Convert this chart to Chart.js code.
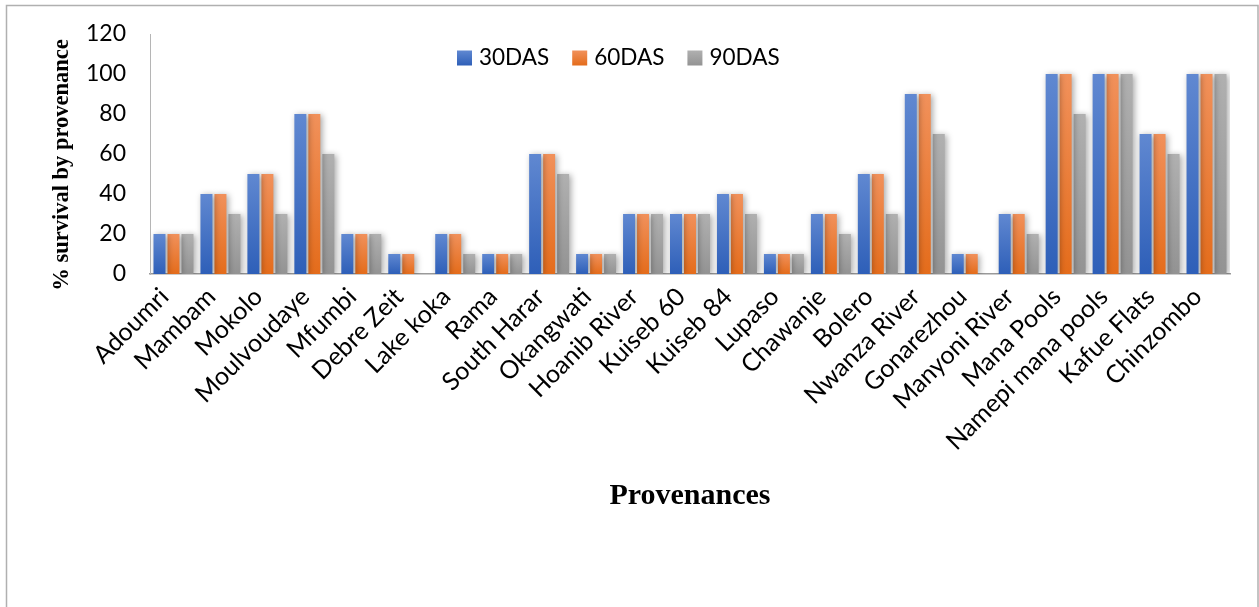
<!DOCTYPE html>
<html>
<head>
<meta charset="utf-8">
<title>% survival by provenance</title>
<script src="https://cdn.jsdelivr.net/npm/chart.js@4/dist/chart.umd.min.js"></script>
<style>
  html, body { margin: 0; padding: 0; background: #ffffff; }
  #wrap { position: relative; width: 1259px; height: 607px; }
</style>
</head>
<body>
<div id="wrap"><canvas id="chart" width="1259" height="607"></canvas></div>
<script>
// Provenances (x categories)
const provenances = [
  'Adoumri', 'Mambam', 'Mokolo', 'Moulvoudaye', 'Mfumbi', 'Debre Zeit',
  'Lake koka', 'Rama', 'South Harar', 'Okangwati', 'Hoanib River',
  'Kuiseb 60', 'Kuiseb 84', 'Lupaso', 'Chawanje', 'Bolero', 'Nwanza River',
  'Gonarezhou', 'Manyoni River', 'Mana Pools', 'Namepi mana pools',
  'Kafue Flats', 'Chinzombo'
];

// % survival at 30, 60 and 90 days after sowing
const das30 = [20, 40, 50, 80, 20, 10, 20, 10, 60, 10, 30, 30, 40, 10, 30, 50, 90, 10, 30, 100, 100, 70, 100];
const das60 = [20, 40, 50, 80, 20, 10, 20, 10, 60, 10, 30, 30, 40, 10, 30, 50, 90, 10, 30, 100, 100, 70, 100];
const das90 = [20, 30, 30, 60, 20, 0, 10, 10, 50, 10, 30, 30, 30, 10, 20, 30, 70, 0, 20, 80, 100, 60, 100];

// Series names
const seriesNames = ['30DAS', '60DAS', '90DAS'];

// Y axis range
const yMin = 0, yMax = 120, yStep = 20;

// Light (top) and dark (bottom) shade of each series
const shades = [
  ['#6088d1', '#2e5fb8'],
  ['#f1915b', '#e46c1b'],
  ['#b0b0b0', '#939393']
];

const tickFamily = 'Lato, "Open Sans", sans-serif';
const serifFamily = '"Liberation Serif", "Times New Roman", serif';

// Vertical gradient for each bar, from its top down to the baseline
function barFill(top, bottom) {
  return (ctx) => {
    const chart = ctx.chart;
    if (ctx.type !== 'data' || !chart.chartArea) return bottom;
    const y = chart.scales.y;
    const y1 = y.getPixelForValue(ctx.raw);
    const y0 = y.getPixelForValue(0);
    if (!(y0 > y1)) return bottom;
    const g = chart.ctx.createLinearGradient(0, y1, 0, y0);
    g.addColorStop(0, top);
    g.addColorStop(1, bottom);
    return g;
  };
}

// Soft drop shadow behind the bars
const barShadow = {
  id: 'barShadow',
  beforeDatasetsDraw(chart) {
    const c = chart.ctx;
    c.save();
    c.shadowColor = 'rgba(0,0,0,0.35)';
    c.shadowBlur = 6;
    c.shadowOffsetX = 2;
    c.shadowOffsetY = 1;
  },
  afterDatasetsDraw(chart) {
    chart.ctx.restore();
  }
};

// Frame around the whole figure
const frame = {
  id: 'frame',
  beforeDraw(chart) {
    const c = chart.ctx;
    c.save();
    c.fillStyle = '#ffffff';
    c.fillRect(0, 0, chart.width, chart.height);
    c.strokeStyle = '#b0b0b0';
    c.lineWidth = 1.5;
    c.strokeRect(6.5, 5.5, chart.width - 7.5, chart.height + 10);
    c.restore();
  }
};

// Legend row drawn inside the plot, near its top
const insideLegend = {
  id: 'insideLegend',
  afterDraw(chart) {
    const c = chart.ctx;
    const box = 15, gapText = 7, gapItem = 23;
    const left = 457, midY = 58;
    c.save();
    c.font = '22.5px ' + tickFamily;
    c.textBaseline = 'middle';
    c.textAlign = 'left';
    let x = left;
    chart.data.datasets.forEach((ds, i) => {
      const g = c.createLinearGradient(0, midY - box / 2, 0, midY + box / 2);
      g.addColorStop(0, shades[i][0]);
      g.addColorStop(1, shades[i][1]);
      c.fillStyle = g;
      c.fillRect(x, midY - box / 2, box, box);
      x += box + gapText;
      c.fillStyle = '#000000';
      c.fillText(ds.label, x, midY);
      x += c.measureText(ds.label).width + gapItem;
    });
    c.restore();
  }
};

// Vertical axis title, centred a little below the plot middle
const yTitle = {
  id: 'yTitle',
  afterDraw(chart) {
    const c = chart.ctx;
    const area = chart.chartArea;
    c.save();
    c.translate(62, (area.top + area.bottom) / 2 + 11);
    c.rotate(-Math.PI / 2);
    c.font = 'bold 22.5px ' + serifFamily;
    c.fillStyle = '#000000';
    c.textAlign = 'center';
    c.textBaseline = 'middle';
    c.fillText('% survival by provenance', 0, 0);
    c.restore();
  }
};

new Chart(document.getElementById('chart'), {
  type: 'bar',
  data: {
    labels: provenances,
    datasets: [
      { label: seriesNames[0], data: das30, backgroundColor: barFill(shades[0][0], shades[0][1]) },
      { label: seriesNames[1], data: das60, backgroundColor: barFill(shades[1][0], shades[1][1]) },
      { label: seriesNames[2], data: das90, backgroundColor: barFill(shades[2][0], shades[2][1]) }
    ]
  },
  options: {
    responsive: false,
    animation: false,
    devicePixelRatio: 1,
    layout: { padding: { left: 40, right: 29, top: 34, bottom: 89 } },
    datasets: {
      bar: { categoryPercentage: 0.894, barPercentage: 0.857 }
    },
    plugins: {
      legend: { display: false },
      tooltip: { enabled: false }
    },
    scales: {
      x: {
        grid: { display: false },
        border: { display: true, color: '#9a9a9a', width: 1.5 },
        ticks: {
          font: { family: tickFamily, size: 25 },
          color: '#000000',
          autoSkip: false,
          minRotation: 45,
          maxRotation: 45,
          padding: 0,
          labelOffset: -9
        },
        title: {
          display: true,
          text: 'Provenances',
          font: { family: serifFamily, size: 30, weight: 'bold' },
          color: '#000000',
          padding: { top: 0, bottom: 4 }
        },
        afterFit(scale) { scale.height = 244; }
      },
      y: {
        min: yMin,
        max: yMax,
        grid: { display: false },
        border: { display: true, color: '#b5b5b5', width: 1 },
        ticks: {
          stepSize: yStep,
          font: { family: tickFamily, size: 23 },
          color: '#000000',
          padding: 16
        },
        afterFit(scale) { scale.width = 110; }
      }
    }
  },
  plugins: [frame, barShadow, insideLegend, yTitle]
});
</script>
</body>
</html>
